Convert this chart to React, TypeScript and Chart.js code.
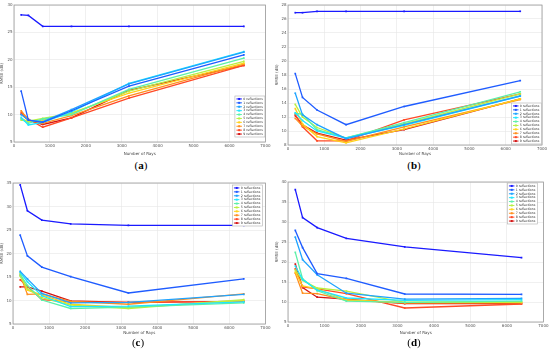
import React, { useEffect, useRef } from "react";
import { Chart, registerables } from "chart.js";
Chart.register(...registerables);

const rays = [200, 400, 800, 1600, 3200, 6400];
const seriesNames = [
  "0 reflections", "1 reflections", "2 reflections", "3 reflections", "4 reflections",
  "5 reflections", "6 reflections", "7 reflections", "8 reflections", "9 reflections",
];
const seriesColors = [
  "#1a1aff", "#1f5cff", "#1fa3ff", "#1fe6ff", "#5cf0a8",
  "#b8f040", "#ffd21a", "#ff8f1f", "#ff4a26", "#d41414",
];

const panelA = [
  [28.2, 28.1, 26.1, 26.1, 26.1, 26.1],
  [14.3, 9.0, 8.6, 10.7, 15.2, 20.9],
  [10.0, 9.0, 8.7, 10.9, 15.6, 21.4],
  [9.5, 8.1, 8.6, 10.5, 15.7, 21.5],
  [9.2, 8.4, 9.2, 10.0, 14.6, 20.3],
  [9.0, 8.8, 9.3, 10.2, 14.3, 19.7],
  [9.3, 8.7, 9.0, 10.3, 13.9, 19.4],
  [10.7, 9.0, 8.4, 9.8, 13.4, 19.2],
  [10.4, 9.2, 7.7, 9.4, 13.0, 19.0],
  [10.1, 9.0, 8.2, 9.4, 14.4, 19.0],
];
const panelB = [
  [26.9, 26.9, 27.1, 27.1, 27.1, 27.1],
  [18.2, 14.8, 13.0, 10.9, 13.5, 17.2],
  [15.4, 12.3, 10.9, 8.9, 10.9, 15.0],
  [12.6, 11.5, 10.0, 9.0, 10.8, 15.0],
  [12.5, 12.4, 10.2, 9.0, 11.2, 15.6],
  [13.8, 12.0, 10.5, 9.0, 11.0, 15.3],
  [13.2, 11.0, 9.2, 8.3, 10.3, 14.6],
  [11.8, 10.7, 9.6, 8.5, 10.6, 14.5],
  [12.4, 10.6, 8.6, 8.6, 11.6, 15.3],
  [12.2, 10.9, 9.7, 8.7, 10.2, 14.6],
];
const panelC = [
  [34.6, 29.1, 27.1, 26.3, 26.0, 26.0],
  [23.9, 19.5, 17.1, 15.1, 11.6, 14.6],
  [16.2, 14.6, 11.5, 9.5, 9.6, 11.3],
  [16.0, 14.0, 11.0, 8.7, 8.8, 9.7],
  [15.5, 13.2, 10.1, 8.3, 8.6, 9.5],
  [15.2, 12.5, 10.6, 9.0, 8.3, 10.2],
  [15.8, 12.2, 11.2, 9.2, 8.5, 10.0],
  [15.4, 11.3, 11.4, 9.8, 9.2, 11.4],
  [14.4, 13.0, 10.2, 9.7, 9.6, 9.8],
  [12.9, 12.9, 12.0, 9.9, 9.6, 9.8],
];
const panelD = [
  [38.1, 31.1, 28.6, 25.9, 23.8, 21.1],
  [27.9, 23.6, 17.1, 15.9, 12.0, 11.9],
  [26.2, 20.6, 16.8, 12.2, 10.7, 10.9],
  [19.0, 15.6, 13.0, 11.0, 10.4, 10.6],
  [22.4, 15.8, 12.8, 10.2, 9.9, 10.2],
  [18.0, 15.4, 13.5, 12.7, 9.9, 10.0],
  [17.5, 14.0, 13.3, 10.5, 9.9, 10.0],
  [17.2, 12.2, 12.1, 10.5, 9.7, 9.8],
  [18.3, 13.8, 13.3, 12.1, 8.5, 9.5],
  [19.5, 13.6, 11.2, 10.7, 9.6, 9.6],
];

const xTitle = "Number of Rays";
const yTitle = "RMSE (dB)";

const insideLegend = {
  id: "insideLegend",
  afterDraw(chart: any, _args: any, opts: any) {
    const { ctx, chartArea } = chart;
    ctx.save();
    ctx.strokeStyle = "#9a9a9a";
    ctx.lineWidth = 0.8;
    ctx.strokeRect(chartArea.left, chartArea.top, chartArea.right - chartArea.left, chartArea.bottom - chartArea.top);
    const ds = chart.data.datasets;
    const rowH = opts.rowH;
    const w = opts.width;
    const h = rowH * ds.length + 2;
    const x0 = opts.corner.includes("r") ? chartArea.right - opts.dx - w : chartArea.left + opts.dx;
    const y0 = opts.corner.includes("b") ? chartArea.bottom - opts.dy - h : chartArea.top + opts.dy;
    ctx.fillStyle = "#ffffff";
    ctx.fillRect(x0, y0, w, h);
    ctx.strokeStyle = "#b0b0b0";
    ctx.lineWidth = 0.6;
    ctx.strokeRect(x0, y0, w, h);
    ctx.font = "3.2px 'DejaVu Sans', sans-serif";
    ctx.textBaseline = "middle";
    ds.forEach((d: any, i: number) => {
      const cy = y0 + 1 + rowH * (i + 0.5);
      ctx.strokeStyle = d.borderColor;
      ctx.lineWidth = 1;
      ctx.beginPath();
      ctx.moveTo(x0 + 1.5, cy);
      ctx.lineTo(x0 + 7, cy);
      ctx.stroke();
      ctx.fillStyle = d.borderColor;
      ctx.fillRect(x0 + 3.3, cy - 1, 2, 2);
      ctx.fillStyle = "#333";
      ctx.fillText(d.label, x0 + 8.3, cy);
    });
    ctx.restore();
  },
};

type PanelProps = {
  data: number[][];
  yMin: number;
  yMax: number;
  yStep: number;
  width: number;
  height: number;
  left: number;
  top: number;
  right: number;
  bottom: number;
  legend: { corner: string; dx: number; dy: number };
};

function Panel(p: PanelProps) {
  const ref = useRef<HTMLCanvasElement>(null);
  useEffect(() => {
    if (!ref.current) return;
    const tickFont = { size: 4, family: "'DejaVu Sans', sans-serif" };
    const chart = new Chart(ref.current, {
      type: "line",
      data: {
        datasets: p.data.map((vals, i) => ({
          label: seriesNames[i],
          data: rays.map((r, j) => ({ x: r, y: vals[j] })),
          borderColor: seriesColors[i],
          backgroundColor: seriesColors[i],
          borderWidth: 1.3,
          pointStyle: "rect",
          pointRadius: 1.2,
          pointBorderWidth: 0,
          tension: 0,
        })),
      },
      options: {
        animation: false,
        responsive: false,
        devicePixelRatio: 1,
        layout: { padding: { top: p.top, right: p.width - p.right, left: 0, bottom: 0 } },
        plugins: {
          legend: { display: false },
          tooltip: { enabled: false },
          insideLegend: { ...p.legend, rowH: 3.9, width: 30 },
        } as any,
        scales: {
          x: {
            type: "linear",
            min: 0,
            max: 7000,
            ticks: { stepSize: 1000, font: tickFont, color: "#555", padding: 1.5, maxRotation: 0, callback: (v: any) => String(v) },
            grid: { color: "#e6e6e6", drawTicks: false, lineWidth: 0.6 },
            border: { display: false },
            title: { display: true, text: xTitle, font: tickFont, color: "#444", padding: 0 },
            afterFit: (s: any) => { s.height = p.height - p.bottom; },
          },
          y: {
            type: "linear",
            min: p.yMin,
            max: p.yMax,
            ticks: { stepSize: p.yStep, font: tickFont, color: "#555", padding: 1.5, callback: (v: any) => String(v) },
            grid: { color: "#e6e6e6", drawTicks: false, lineWidth: 0.6 },
            border: { display: false },
            title: { display: true, text: yTitle, font: tickFont, color: "#444", padding: 0 },
            afterFit: (s: any) => { s.width = p.left; },
          },
        },
      },
      plugins: [insideLegend as any],
    });
    return () => chart.destroy();
  }, []);
  return <canvas ref={ref} width={p.width} height={p.height} style={{ width: p.width, height: p.height, display: "block" }} />;
}

function Label({ letter }: { letter: string }) {
  return (
    <span style={{ fontFamily: "'Liberation Serif', 'Times New Roman', serif", fontSize: 11, color: "#000" }}>
      (<b>{letter}</b>)
    </span>
  );
}

export default function App() {
  const abs = (l: number, t: number): React.CSSProperties => ({ position: "absolute", left: l, top: t });
  const lab = (cx: number, cy: number): React.CSSProperties => ({
    position: "absolute", left: cx - 20, top: cy - 7, width: 40, textAlign: "center", lineHeight: "14px",
  });
  return (
    <div style={{ position: "fixed", left: 0, top: 0, width: 550, height: 355, background: "#fff", overflow: "hidden" }}>
      <div style={abs(0, 0)}>
        <Panel data={panelA} yMin={5} yMax={30} yStep={5} width={272} height={156}
          left={14} top={5} right={266} bottom={142} legend={{ corner: "br", dx: 0.5, dy: 5 }} />
      </div>
      <div style={abs(275, 0)}>
        <Panel data={panelB} yMin={8} yMax={28} yStep={2} width={275} height={156}
          left={13} top={5} right={267} bottom={145} legend={{ corner: "br", dx: 0.5, dy: 1 }} />
      </div>
      <div style={abs(0, 175)}>
        <Panel data={panelC} yMin={5} yMax={35} yStep={5} width={272} height={160}
          left={13} top={8} right={266} bottom={149} legend={{ corner: "tr", dx: 3, dy: 2 }} />
      </div>
      <div style={abs(275, 175)}>
        <Panel data={panelD} yMin={5} yMax={40} yStep={5} width={275} height={160}
          left={13} top={7} right={269} bottom={147} legend={{ corner: "tr", dx: 6, dy: 1 }} />
      </div>
      <div style={lab(141, 164)}><Label letter="a" /></div>
      <div style={lab(414, 164)}><Label letter="b" /></div>
      <div style={lab(138, 341)}><Label letter="c" /></div>
      <div style={lab(414, 341)}><Label letter="d" /></div>
    </div>
  );
}
